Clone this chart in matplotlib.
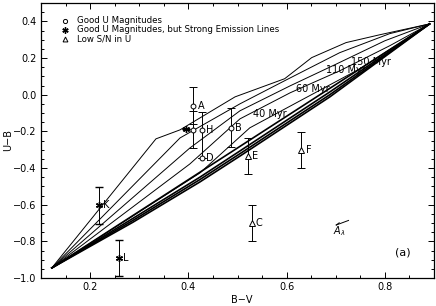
import matplotlib
matplotlib.use("Agg")
import matplotlib.pyplot as plt
from matplotlib.ticker import MultipleLocator

# ---------------- data ----------------
# model grid tracks (B-V, U-B)
track_a_x = [0.122, 0.334, 0.383, 0.495, 0.596, 0.651, 0.721, 0.790, 0.891]
track_a_y = [-0.945, -0.241, -0.192, -0.012, 0.087, 0.202, 0.284, 0.327, 0.386]
track_b_x = [0.122, 0.383, 0.505, 0.596, 0.708, 0.810, 0.891]
track_b_y = [-0.945, -0.236, -0.050, 0.076, 0.229, 0.333, 0.386]
track_c_x = [0.122, 0.403, 0.505, 0.607, 0.698, 0.800, 0.891]
track_c_y = [-0.945, -0.291, -0.088, 0.048, 0.163, 0.294, 0.386]
track_d_x = [0.122, 0.403, 0.505, 0.607, 0.708, 0.810, 0.891]
track_d_y = [-0.945, -0.378, -0.132, 0.010, 0.130, 0.267, 0.386]
track_g_x = [0.122, 0.4235, 0.525, 0.627, 0.749, 0.891]
track_g_y = [-0.945, -0.427, -0.181, -0.034, 0.141, 0.386]
bundle1_x = [0.122, 0.891]
bundle1_y = [-0.945, 0.386]
bundle2_x = [0.122, 0.287, 0.4235, 0.509, 0.688, 0.891]
bundle2_y = [-0.945, -0.675, -0.450, -0.300, 0.015, 0.386]
bundle3_x = [0.122, 0.287, 0.4235, 0.509, 0.688, 0.891]
bundle3_y = [-0.945, -0.686, -0.463, -0.315, 0.000, 0.386]
bundle4_x = [0.122, 0.287, 0.4235, 0.509, 0.688, 0.891]
bundle4_y = [-0.945, -0.696, -0.476, -0.328, -0.012, 0.386]

age_labels = ["40 Myr", "60 Myr", "110 Myr", "150 Myr"]
age_x = [0.531, 0.620, 0.681, 0.732]
age_y = [-0.106, 0.030, 0.134, 0.178]

# observed clusters
good_names = ["A", "", "H", "D", "B"]
good_x = [0.410, 0.410, 0.428, 0.427, 0.486]
good_y = [-0.060, -0.190, -0.195, -0.343, -0.180]
good_err_lo = [0.10, 0.10, 0.148, 0.0, 0.105]
good_err_hi = [0.10, 0.10, 0.10, 0.0, 0.105]

emis_names = ["K", "L", ""]
emis_x = [0.218, 0.259, 0.396]
emis_y = [-0.604, -0.890, -0.185]
emis_err = [0.10, 0.10, 0.0]

low_names = ["E", "F", "C"]
low_x = [0.522, 0.630, 0.529]
low_y = [-0.332, -0.300, -0.700]
low_err = [0.098, 0.098, 0.098]

legend_labels = ["Good U Magnitudes",
                 "Good U Magnitudes, but Strong Emission Lines",
                 "Low S/N in U"]

redvec_x = [0.701, 0.726]
redvec_y = [-0.711, -0.686]

# ---------------- figure ----------------
fig = plt.figure(figsize=(4.36, 3.06), dpi=100)
ax = fig.add_axes([41/436, 1-278/306, 393/436, 275/306])
ax.set_xlim(0.1, 0.9)
ax.set_ylim(-1.0, 0.5)

lc = "black"
for tx, ty in [(track_a_x, track_a_y), (track_b_x, track_b_y),
               (track_c_x, track_c_y), (track_d_x, track_d_y),
               (track_g_x, track_g_y)]:
    ax.plot(tx, ty, color=lc, lw=0.7)
for tx, ty in [(bundle1_x, bundle1_y), (bundle2_x, bundle2_y),
               (bundle3_x, bundle3_y), (bundle4_x, bundle4_y)]:
    ax.plot(tx, ty, color=lc, lw=1.2)

for lab, x, y in zip(age_labels, age_x, age_y):
    ax.text(x, y, lab, fontsize=7, ha="left", va="center")

ekw = dict(ecolor="black", elinewidth=0.7, capsize=3, capthick=0.7, ls="none")
ax.errorbar(good_x, good_y, yerr=[good_err_lo, good_err_hi], marker="o", ms=3.5,
            mfc="white", mec="black", mew=0.7, **ekw)
ax.errorbar(emis_x, emis_y, yerr=emis_err, marker=(6, 2, 0), ms=5,
            mec="black", mew=1.0, **ekw)
ax.errorbar(low_x, low_y, yerr=low_err, marker="^", ms=4,
            mfc="white", mec="black", mew=0.7, **ekw)

for names, xs, ys in [(good_names, good_x, good_y), (emis_names, emis_x, emis_y),
                      (low_names, low_x, low_y)]:
    for n, x, y in zip(names, xs, ys):
        if n:
            ax.annotate(n, (x, y), xytext=(3, 0), textcoords="offset points",
                        fontsize=7, ha="left", va="center")

# legend drawn by hand
leg_x, leg_tx = 0.149, 0.173
leg_y = [0.404, 0.355, 0.306]
ax.plot([leg_x], [leg_y[0]], marker="o", ms=3, mfc="white", mec="black", mew=0.7)
ax.plot([leg_x], [leg_y[1]], marker=(6, 2, 0), ms=4.5, mec="black", mew=1.0)
ax.plot([leg_x], [leg_y[2]], marker="^", ms=3.5, mfc="white", mec="black", mew=0.7)
for lab, y in zip(legend_labels, leg_y):
    ax.text(leg_tx, y, lab, fontsize=6.2, ha="left", va="center")

# reddening vector
ax.plot(redvec_x, redvec_y, color="black", lw=0.7)
ax.plot([redvec_x[0], redvec_x[0] + 0.006], [redvec_y[0], redvec_y[0] + 0.012],
        color="black", lw=0.7)
ax.text(0.708, -0.745, r"$A_\lambda$", fontsize=7, ha="center", va="center")

ax.text(0.837, -0.863, "(a)", fontsize=8, ha="center", va="center")

# axes styling
ax.xaxis.set_major_locator(MultipleLocator(0.2))
ax.xaxis.set_minor_locator(MultipleLocator(0.05))
ax.yaxis.set_major_locator(MultipleLocator(0.2))
ax.yaxis.set_minor_locator(MultipleLocator(0.05))
ax.tick_params(which="both", direction="in", top=True, right=True, width=0.7,
               labelsize=7, pad=3)
ax.tick_params(which="major", length=4.3)
ax.tick_params(which="minor", length=2.2)
for s in ax.spines.values():
    s.set_linewidth(0.9)
ax.xaxis.set_major_formatter(plt.FuncFormatter(lambda v, p: f"{v:.1f}".replace("-", "\u2212")))
ax.yaxis.set_major_formatter(plt.FuncFormatter(lambda v, p: f"{v:.1f}".replace("-", "\u2212")))

fig.text(242/436, 1-300/306, "B\u2212V", fontsize=7, ha="center", va="center")
fig.text(8/436, 1-140/306, "U\u2212B", fontsize=7, ha="center", va="center", rotation=90)

fig.savefig("out.png", dpi=100)
